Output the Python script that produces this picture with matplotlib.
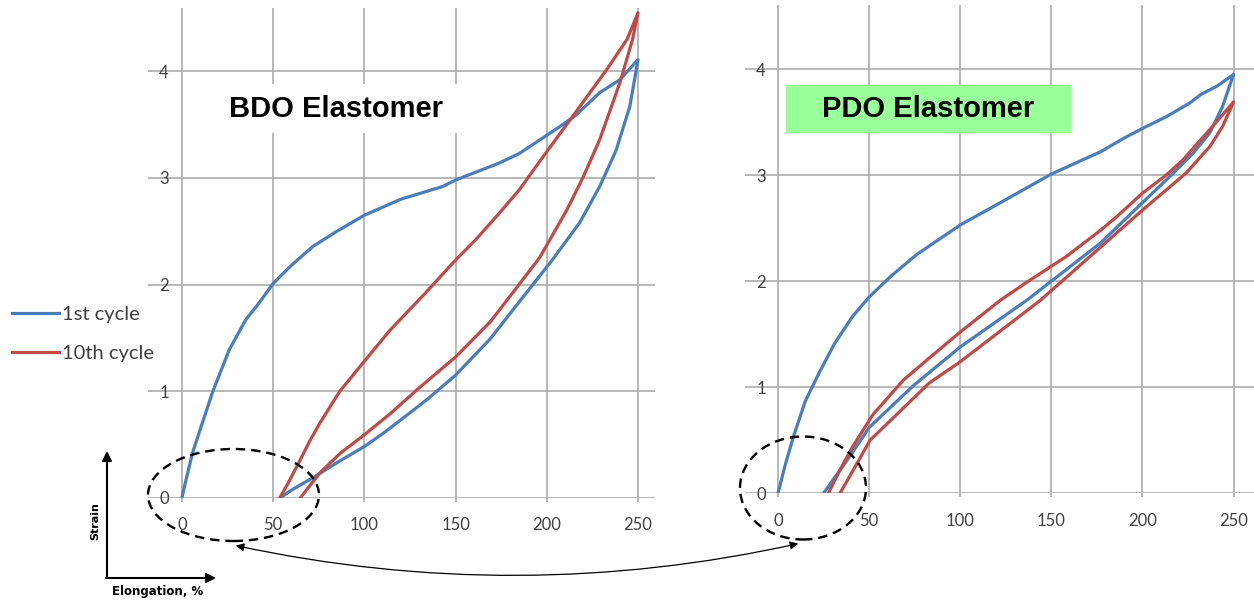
import matplotlib.pyplot as plt
from matplotlib.patches import Ellipse, Rectangle, FancyArrowPatch

# BDO elastomer, 1st cycle (loading then unloading)
bdo_c1_load_x = [0, 2, 5.8, 10, 17, 26, 35, 42, 50, 60, 72, 85, 100, 120, 143, 150, 174, 185, 200, 207, 216, 229, 240, 250]
bdo_c1_load_y = [0, 0.15, 0.42, 0.64, 1.0, 1.39, 1.67, 1.82, 2.01, 2.18, 2.36, 2.5, 2.65, 2.8, 2.92, 2.98, 3.14, 3.23, 3.40, 3.48, 3.59, 3.80, 3.92, 4.11]
bdo_c1_unload_x = [250, 245.5, 238, 229, 218, 203, 185, 169, 150, 135, 123, 110, 100, 87, 72, 60, 54]
bdo_c1_unload_y = [4.11, 3.67, 3.26, 2.92, 2.58, 2.23, 1.84, 1.49, 1.15, 0.93, 0.77, 0.60, 0.48, 0.35, 0.19, 0.07, 0]
# BDO elastomer, 10th cycle
bdo_c10_load_x = [53.7, 58, 64.7, 70, 75.6, 86.6, 100, 114, 134, 150, 161, 174, 185, 198, 216, 233, 244, 250]
bdo_c10_load_y = [0, 0.13, 0.35, 0.53, 0.70, 1.0, 1.28, 1.57, 1.93, 2.23, 2.42, 2.67, 2.89, 3.20, 3.62, 4.02, 4.30, 4.55]
bdo_c10_unload_x = [250, 247, 240, 229, 220, 211, 196, 183, 169, 150, 130, 115, 100, 87, 76, 70, 65]
bdo_c10_unload_y = [4.55, 4.30, 3.89, 3.36, 3.01, 2.70, 2.25, 1.96, 1.65, 1.32, 1.03, 0.80, 0.59, 0.42, 0.24, 0.11, 0]

# PDO elastomer, 1st cycle
pdo_c1_load_x = [0, 4, 8.4, 15, 23, 31, 41, 50, 61.5, 76, 100, 122, 150, 177, 190, 200, 213, 226, 232, 241, 250]
pdo_c1_load_y = [0, 0.27, 0.53, 0.87, 1.15, 1.41, 1.67, 1.85, 2.04, 2.25, 2.53, 2.74, 3.01, 3.22, 3.35, 3.44, 3.55, 3.68, 3.76, 3.84, 3.95]
pdo_c1_unload_x = [250, 244, 237, 228, 217, 200, 177, 150, 136.5, 100, 74, 50, 39.5, 32, 25]
pdo_c1_unload_y = [3.95, 3.65, 3.40, 3.21, 3.02, 2.74, 2.36, 2.00, 1.82, 1.38, 1.01, 0.62, 0.35, 0.17, 0]
# PDO elastomer, 10th cycle
pdo_c10_load_x = [27.6, 34, 41, 52, 69, 84, 100, 122, 136.5, 158, 177, 186, 200, 213, 222, 237, 250]
pdo_c10_load_y = [0, 0.22, 0.44, 0.74, 1.07, 1.29, 1.52, 1.82, 1.99, 2.23, 2.48, 2.61, 2.83, 3.00, 3.14, 3.43, 3.69]
pdo_c10_unload_x = [250, 244, 237, 224, 200, 173, 144, 100, 83, 50.5, 42, 34]
pdo_c10_unload_y = [3.69, 3.46, 3.27, 3.02, 2.67, 2.26, 1.82, 1.24, 1.04, 0.50, 0.24, 0]

x_ticks = [0, 50, 100, 150, 200, 250]
y_ticks = [0, 1, 2, 3, 4]
labels = ['1st cycle', '10th cycle']
blue = '#4a7ebb'
red = '#be4b48'
grid_c = '#ababab'
tick_c = '#404040'

W, H = 1254, 604


def fx(x):
    return x / W


def fy(y):
    return 1 - y / H


fig = plt.figure(figsize=(W / 100, H / 100), dpi=100)

ax1 = fig.add_axes([fx(148), fy(497.7), (655 - 148) / W, (497.7 - 8) / H])
ax2 = fig.add_axes([fx(745), fy(493.3), (1254 - 745) / W, (493.3 - 5) / H])


def style(ax, xlim, ylim):
    ax.set_xlim(*xlim)
    ax.set_ylim(*ylim)
    for s in ax.spines.values():
        s.set_visible(False)
    ax.set_xticks(x_ticks)
    ax.set_yticks(y_ticks)
    ax.grid(True, color=grid_c, lw=1.2)
    ax.set_axisbelow(True)
    ax.tick_params(axis='x', length=3, width=1.2, color=grid_c, pad=11,
                   labelsize=12, labelcolor=tick_c)
    ax.tick_params(axis='y', length=0, pad=-15, labelsize=12, labelcolor=tick_c)
    for t in ax.get_xticklabels() + ax.get_yticklabels():
        t.set_fontfamily('Lato')


style(ax1, (-18.6, 259.3), (0, 4.594))
style(ax2, (-18.1, 261.2), (0, 4.604))

lw = 2.3
l1, = ax1.plot(bdo_c1_load_x + bdo_c1_unload_x, bdo_c1_load_y + bdo_c1_unload_y, color=blue, lw=lw)
l2, = ax1.plot(bdo_c10_load_x + bdo_c10_unload_x, bdo_c10_load_y + bdo_c10_unload_y, color=red, lw=lw)
ax2.plot(pdo_c1_load_x + pdo_c1_unload_x, pdo_c1_load_y + pdo_c1_unload_y, color=blue, lw=lw)
ax2.plot(pdo_c10_load_x + pdo_c10_unload_x, pdo_c10_load_y + pdo_c10_unload_y, color=red, lw=lw)

# title boxes
fig.add_artist(Rectangle((fx(193), fy(133)), 287 / W, 49 / H, transform=fig.transFigure,
                         facecolor='white', edgecolor='none', zorder=2))
fig.text(fx(336), fy(109), 'BDO Elastomer', ha='center', va='center', fontsize=21,
         fontweight='bold', family='Liberation Sans', zorder=3)
fig.add_artist(Rectangle((fx(786), fy(133)), 285 / W, 48 / H, transform=fig.transFigure,
                         facecolor='#99ff99', edgecolor='none', zorder=2))
fig.text(fx(928), fy(109), 'PDO Elastomer', ha='center', va='center', fontsize=21,
         fontweight='bold', family='Liberation Sans', zorder=3)

fig.legend([l1, l2], labels, loc='center left', bbox_to_anchor=(fx(12), fy(334)),
           frameon=False, handlelength=2.35, handletextpad=0.15, labelspacing=1.05,
           borderpad=0, borderaxespad=0,
           prop={'family': 'Lato', 'size': 14.5}, labelcolor=tick_c)

# dashed ellipses round the origin regions
for cx, cy, w, h in [(233.5, 495, 171, 92), (803, 488, 126, 103)]:
    fig.add_artist(Ellipse((fx(cx), fy(cy)), w / W, h / H, transform=fig.transFigure,
                           fill=False, ls=(0, (4, 2.5)), lw=1.7, color='black', zorder=4))

# curved double arrow between ellipses
fig.add_artist(FancyArrowPatch((fx(233), fy(545)), (fx(801), fy(543)), transform=fig.transFigure,
                               arrowstyle='<|-|>', mutation_scale=12, lw=0.9, color='black',
                               connectionstyle='arc3,rad=0.11', zorder=4))

# small strain / elongation axes sketch
fig.add_artist(FancyArrowPatch((fx(107), fy(578)), (fx(107), fy(451)), transform=fig.transFigure,
                               arrowstyle='-|>', mutation_scale=14, lw=1.5, color='black',
                               shrinkA=0, shrinkB=0, zorder=4))
fig.add_artist(FancyArrowPatch((fx(106), fy(578)), (fx(216), fy(578)), transform=fig.transFigure,
                               arrowstyle='-|>', mutation_scale=14, lw=1.5, color='black',
                               shrinkA=0, shrinkB=0, zorder=4))
fig.text(fx(95), fy(521), 'Strain', rotation=90, ha='center', va='center', fontsize=8,
         fontweight='bold', family='Liberation Sans Narrow')
fig.text(fx(158), fy(592), 'Elongation, %', ha='center', va='center', fontsize=8.5,
         fontweight='bold', family='Liberation Sans Narrow')

fig.savefig('out.png', dpi=100)
